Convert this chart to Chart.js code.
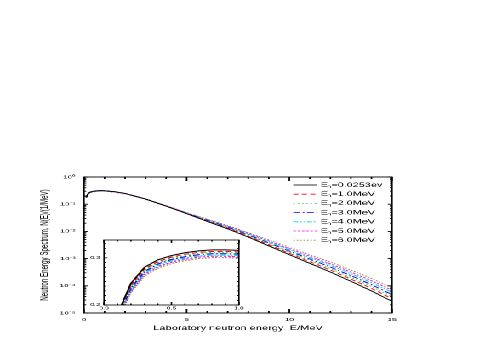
<!DOCTYPE html>
<html><head><meta charset="utf-8">
<script src="https://cdn.jsdelivr.net/npm/chart.js@4/dist/chart.umd.min.js"></script>
<style>
html,body{margin:0;padding:0;background:#fff;overflow:hidden;}
#wrap{position:absolute;left:0;top:0;width:285px;height:346px;transform:scaleX(1.70175);transform-origin:0 0;}
#main{position:absolute;left:0;top:0;}
#inset{position:absolute;left:50px;top:232px;}
</style></head><body>
<div id="wrap"><canvas id="main" width="285" height="346"></canvas><canvas id="inset" width="95" height="82"></canvas></div>
<script>
// ---- data ----
const energies = [0.1,0.13,0.2,0.3,0.4,0.5,0.6,0.7,0.8,0.9,1.0,1.5,2,3,4,5,6,7,8,9,10,11,12,13,14,15];
const seriesNames = ['0.0253ev','1.0MeV','2.0MeV','3.0MeV','4.0MeV','5.0MeV','6.0MeV'];
const spec0253ev = [0.185,0.200,0.246,0.280,0.296,0.305,0.311,0.315,0.317,0.317,0.316,0.290,0.250,0.155,0.0851,0.0447,0.0234,0.0123,0.00617,0.002936,0.001389,6.67e-4,3.195e-4,1.458e-4,6.48e-5,2.68e-5];
const spec1MeV = [0.1824,0.1972,0.2421,0.2764,0.2924,0.3016,0.3076,0.3117,0.3137,0.3137,0.3127,0.2874,0.2483,0.1547,0.0855,0.04553,0.02428,0.01303,0.006672,0.003248,0.001573,7.73e-4,3.789e-4,1.766e-4,8.01e-5,3.38e-5];
const spec2MeV = [0.1805,0.1951,0.2391,0.2736,0.2898,0.2991,0.3050,0.3093,0.3112,0.3112,0.3103,0.2854,0.2469,0.1545,0.0858,0.04617,0.02496,0.01360,0.007076,0.003505,0.001727,8.63e-4,4.306e-4,2.038e-4,9.39e-5,4.01e-5];
const spec3MeV = [0.1785,0.1930,0.2362,0.2709,0.2871,0.2966,0.3024,0.3068,0.3088,0.3088,0.3078,0.2835,0.2456,0.1542,0.0861,0.04681,0.02566,0.01420,0.007504,0.003782,0.001896,9.64e-4,4.892e-4,2.352e-4,1.101e-4,4.77e-5];
const spec4MeV = [0.1763,0.1906,0.2328,0.2678,0.2841,0.2938,0.2995,0.3040,0.3060,0.3060,0.3050,0.2813,0.2441,0.1540,0.0864,0.04754,0.02648,0.01492,0.008019,0.004123,0.002107,1.093e-3,5.653e-4,2.766e-4,1.318e-4,5.81e-5];
const spec5MeV = [0.1744,0.1885,0.2299,0.2651,0.2814,0.2912,0.2970,0.3016,0.3035,0.3035,0.3025,0.2793,0.2428,0.1537,0.0867,0.04820,0.02721,0.01557,0.008506,0.004448,0.002313,1.220e-3,6.426e-4,3.192e-4,1.544e-4,6.90e-5];
const spec6MeV = [0.1721,0.1860,0.2263,0.2618,0.2782,0.2882,0.2939,0.2986,0.3005,0.3005,0.2996,0.2770,0.2413,0.1535,0.0871,0.04899,0.02813,0.01641,0.009125,0.004873,0.002587,1.393e-3,7.489e-4,3.791e-4,1.869e-4,8.48e-5];
const yTickValues = [1,0.1,0.01,0.001,0.0001,0.00001];
const yTickLabels = ['10\u2070','10\u207B\u00B9','10\u207B\u00B2','10\u207B\u00B3','10\u207B\u2074','10\u207B\u2075'];
const xTickValues = [0,5,10,15];
const xTickLabels = ['0','5','10','15'];
const insetXTickValues = [0,0.5,1.0];
const insetXTickLabels = ['0.0','0.5','1.0'];
const insetYTickValues = [0.2,0.3];
const insetYTickLabels = ['0.2','0.3'];

// ---- styles ----
const allSeries = [spec0253ev,spec1MeV,spec2MeV,spec3MeV,spec4MeV,spec5MeV,spec6MeV];
const colors = ['#000000','#ff0000','#33cc33','#0000ff','#00d0d0','#ff00ff','#8c8c2a'];
const dashes = [[],[3,2],[1,1.5],[4,1.5,1,1.5],[3,1,1,1,1,1],[1.5,1],[1,1]];
const FONT = '"Liberation Sans", Arial, sans-serif';
Chart.defaults.font.family = FONT;
Chart.defaults.color = '#000';

function makeDatasets(n, w){
  return allSeries.map((s,i)=>({
    label:'En='+seriesNames[i],
    data: energies.slice(0,n).map((e,j)=>({x:e,y:s[j]})),
    borderColor:colors[i], backgroundColor:colors[i],
    borderDash:dashes[i], borderWidth:w, pointRadius:0, fill:false, tension:0
  }));
}

function frameTicks(cfg){
  return {id:'frameTicks', afterDatasetsDraw(chart){
    const {ctx, chartArea:a, scales:{x,y}} = chart;
    ctx.save();
    ctx.strokeStyle='#000'; ctx.lineWidth=cfg.lw; ctx.setLineDash([]);
    ctx.strokeRect(a.left,a.top,a.right-a.left,a.bottom-a.top);
    ctx.beginPath();
    const xt=(vals,len)=>vals.forEach(v=>{const p=x.getPixelForValue(v); if(p<a.left-0.1||p>a.right+0.1)return;
      ctx.moveTo(p,a.bottom); ctx.lineTo(p,a.bottom-len); ctx.moveTo(p,a.top); ctx.lineTo(p,a.top+len);});
    const yt=(vals,len)=>vals.forEach(v=>{const p=y.getPixelForValue(v); if(p<a.top-0.1||p>a.bottom+0.1)return;
      ctx.moveTo(a.left,p); ctx.lineTo(a.left+len,p); ctx.moveTo(a.right,p); ctx.lineTo(a.right-len,p);});
    xt(cfg.xMajor,cfg.xMajLen); xt(cfg.xMinor,cfg.xMinLen);
    yt(cfg.yMajor,cfg.yMajLen); yt(cfg.yMinor,cfg.yMinLen);
    ctx.stroke(); ctx.restore();
  }};
}

const mainXMinor=[]; for(let v=1;v<15;v++){ if(v%5) mainXMinor.push(v); }
const mainYMinor=[]; for(let d=-5; d<0; d++){ for(let m=2;m<10;m++) mainYMinor.push(m*Math.pow(10,d)); }
const insetXMinor=[]; for(let k=1;k<10;k++){ if(k!==5) insetXMinor.push(k/10); }
const insetYMinor=[]; for(let k=21;k<=33;k++){ if(k!==30) insetYMinor.push(k/100); }

const legendPlugin = {id:'customLegend', afterDraw(chart){
  const {ctx, chartArea:a} = chart;
  ctx.save();
  chart.data.datasets.forEach((ds,i)=>{
    const y = a.top + 8 + i*9.2;
    const x0 = a.right - 58;
    ctx.strokeStyle=ds.borderColor; ctx.lineWidth=0.8; ctx.setLineDash(ds.borderDash);
    ctx.beginPath(); ctx.moveTo(x0,y); ctx.lineTo(x0+14,y); ctx.stroke();
    ctx.setLineDash([]); ctx.fillStyle='#000'; ctx.textBaseline='middle'; ctx.textAlign='left';
    let x = x0+16;
    ctx.font='6.4px '+FONT; ctx.fillText('E',x,y); x+=ctx.measureText('E').width-0.3;
    ctx.font='4.1px '+FONT; ctx.fillText('n',x,y+1.9); x+=ctx.measureText('n').width+0.1;
    ctx.font='6.4px '+FONT; ctx.fillText('='+seriesNames[i],x,y);
  });
  ctx.restore();
}};

new Chart(document.getElementById('main'),{
  type:'line',
  data:{datasets:makeDatasets(energies.length, 0.8)},
  options:{
    responsive:false, animation:false, devicePixelRatio:2,
    layout:{padding:{left:0,right:54.65,top:177,bottom:0}},
    plugins:{legend:{display:false},tooltip:{enabled:false}},
    scales:{
      x:{type:'linear',min:0,max:15,
        grid:{display:false,drawTicks:false}, border:{display:false},
        afterBuildTicks:(s)=>{s.ticks=xTickValues.map(v=>({value:v}));},
        ticks:{font:{size:4.8},color:'#000',padding:3.6,maxRotation:0,autoSkip:false,
          callback:(v)=>xTickLabels[xTickValues.indexOf(v)]},
        title:{display:true,text:'Laboratory neutron energy  E/MeV',font:{size:6.5},color:'#000',padding:{top:0,bottom:14}},
        afterFit:(s)=>{s.height=33;}
      },
      y:{type:'logarithmic',min:1e-5,max:1,
        grid:{display:false,drawTicks:false}, border:{display:false},
        afterBuildTicks:(s)=>{s.ticks=yTickValues.map(v=>({value:v}));},
        ticks:{font:{size:4.8},color:'#000',padding:5,autoSkip:false,
          callback:(v)=>{let best=0;yTickValues.forEach((t,i)=>{if(Math.abs(Math.log10(t)-Math.log10(v))<Math.abs(Math.log10(yTickValues[best])-Math.log10(v)))best=i;});return yTickLabels[best];}},
        title:{display:true,text:'Neutron Energy Spectrum, N(E)/(1/MeV)',font:{size:6.2},color:'#000',padding:{top:22.8,bottom:0}},
        afterFit:(s)=>{s.width=49.36;}
      }
    }
  },
  plugins:[frameTicks({lw:0.9,xMajor:xTickValues,xMinor:mainXMinor,yMajor:yTickValues,yMinor:mainYMinor,xMajLen:4,xMinLen:2,yMajLen:2.5,yMinLen:1.3}),legendPlugin]
});

const insetBg = {id:'insetBg', beforeDatasetsDraw(chart){
  const {ctx, chartArea:a} = chart; ctx.save(); ctx.fillStyle='#fff';
  ctx.fillRect(a.left,a.top,a.right-a.left,a.bottom-a.top); ctx.restore();
}};

new Chart(document.getElementById('inset'),{
  type:'line',
  data:{datasets:makeDatasets(12, 1.0)},
  options:{
    responsive:false, animation:false, devicePixelRatio:2,
    layout:{padding:{left:0,right:4.6,top:8,bottom:0}},
    plugins:{legend:{display:false},tooltip:{enabled:false}},
    scales:{
      x:{type:'linear',min:0,max:1,
        grid:{display:false,drawTicks:false}, border:{display:false},
        afterBuildTicks:(s)=>{s.ticks=insetXTickValues.map(v=>({value:v}));},
        ticks:{font:{size:4.2},color:'#000',padding:1,maxRotation:0,autoSkip:false,
          callback:(v)=>insetXTickLabels[insetXTickValues.indexOf(v)]},
        afterFit:(s)=>{s.height=9;}
      },
      y:{type:'linear',min:0.2,max:0.338,
        grid:{display:false,drawTicks:false}, border:{display:false},
        afterBuildTicks:(s)=>{s.ticks=insetYTickValues.map(v=>({value:v}));},
        ticks:{font:{size:4.2},color:'#000',padding:2.3,autoSkip:false,
          callback:(v)=>insetYTickLabels[insetYTickValues.indexOf(v)]},
        afterFit:(s)=>{s.width=11.1;}
      }
    }
  },
  plugins:[insetBg, frameTicks({lw:0.8,xMajor:insetXTickValues,xMinor:insetXMinor,yMajor:insetYTickValues,yMinor:insetYMinor,xMajLen:3,xMinLen:1.5,yMajLen:2,yMinLen:1})]
});
</script>
</body></html>
